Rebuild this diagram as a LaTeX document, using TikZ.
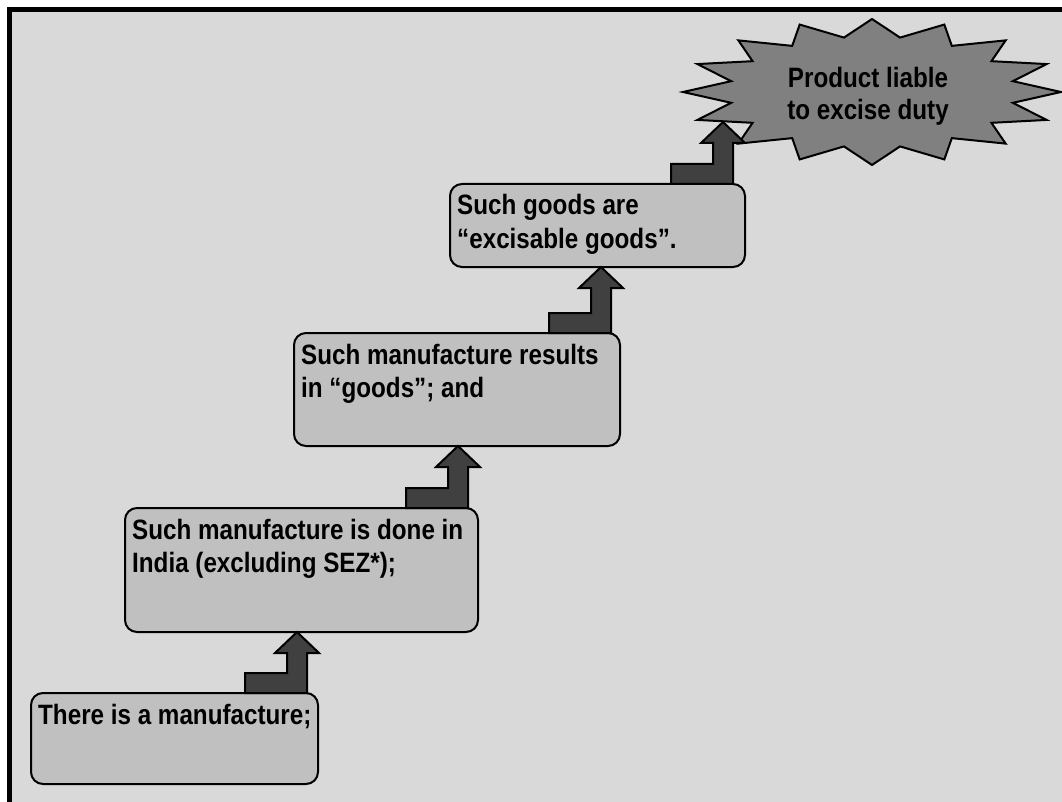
\documentclass[tikz,border=0pt]{standalone}
\usepackage{fontspec}
\setmainfont{Liberation Sans}[FakeStretch=0.865]
\usetikzlibrary{calc}
\definecolor{pagegray}{RGB}{217,217,217}
\definecolor{boxgray}{RGB}{192,192,192}
\definecolor{risergray}{RGB}{64,64,64}
\definecolor{burstgray}{RGB}{128,128,128}
% stair-step arrow: #1 tip x, #2 tip point, #3 foot point on the lower box
\newcommand\riser[3]{%
  \draw[riser] let \p1=(#2), \p2=(#3) in
    (#1pt,\y1) -- (#1pt+22pt,\y1-21pt) -- (#1pt+10pt,\y1-21pt)
    -- (#1pt+10pt,\y2) -- (#1pt-52pt,\y2) -- (#1pt-52pt,\y2+20pt)
    -- (#1pt-10pt,\y2+20pt) -- (#1pt-10pt,\y1-21pt) -- (#1pt-22pt,\y1-21pt) -- cycle;}
\begin{document}
\begin{tikzpicture}[x=1pt,y=-1pt,
  stepbox/.style={draw=black, line width=2pt, fill=boxgray, rounded corners=12pt,
    inner sep=0pt, outer sep=0pt},
  steptext/.style={anchor=base west, inner sep=0pt, text width=#1, align=flush left,
    font=\bfseries\fontsize{28}{33}\selectfont},
  steptext/.default=400pt,
  riser/.style={draw=black, line width=2pt, fill=risergray, line join=miter},
  burst/.style={draw=black, line width=2pt, fill=burstgray, line join=miter},
  bursttext/.style={align=center, inner sep=0pt, font=\bfseries\fontsize{28}{32}\selectfont},
]
% page and frame
\useasboundingbox (0,0) rectangle (1062,802);
\fill[white] (0,0) rectangle (1062,802);
\fill[pagegray] (9.5,9.5) rectangle (1062,802);
\draw[line width=5.5pt] (9.5,802) -- (9.5,9.5) -- (1062,9.5);

% steps
\node[stepbox, minimum width=287pt, minimum height=91pt]  (b1) at (174.5,738.5) {};
\node[stepbox, minimum width=353pt, minimum height=124pt] (b2) at (301.5,570) {};
\node[stepbox, minimum width=326pt, minimum height=113pt] (b3) at (457,389.5) {};
\node[stepbox, minimum width=295pt, minimum height=83pt]  (b4) at (597.5,225.5) {};

\node[steptext] (t1) at ([shift={(7,31)}]b1.north west) {There is a manufacture;};
\node[steptext] (t2) at ([shift={(7,31)}]b2.north west) {Such manufacture is done in\\India (excluding SEZ*);};
\node[steptext] (t3) at ([shift={(7,31)}]b3.north west) {Such manufacture results\\in “goods”; and};
\node[steptext] (t4) at ([shift={(7,31)}]b4.north west) {Such goods are\\“excisable goods”.};

% starburst
\draw[burst] plot[samples at={0,...,31}, variable=\i]
  ({872+189*(1-0.24*mod(\i,2))*cos(90-11.25*\i)},
   {92-73*(1-0.24*mod(\i,2))*sin(90-11.25*\i)}) -- cycle;
\node[bursttext] (burst) at (868,96) {Product liable\\to excise duty};
\coordinate (burstfoot) at (723,122);

% stair arrows
\riser{297}{b2.south}{b1.north}
\riser{458}{b3.south}{b2.north}
\riser{601}{b4.south}{b3.north}
\riser{723}{burstfoot}{b4.north}
\end{tikzpicture}
\end{document}
